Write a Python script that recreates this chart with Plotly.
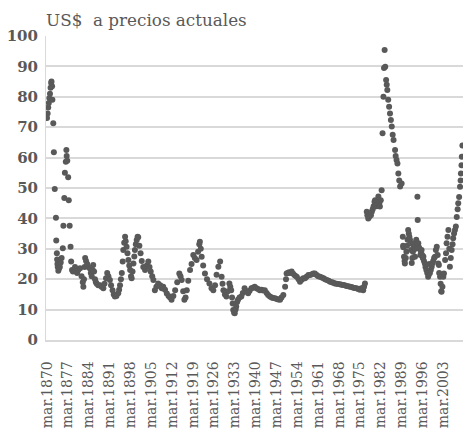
import plotly.graph_objects as go

# Precio en US$ corrientes (años decimales, "mar." = inicio de cada año del eje)
anios = [
    1870.0, 1870.2, 1870.4, 1870.6, 1870.8, 1871.0, 1871.2, 1871.4, 1871.5, 1871.7,
    1871.8, 1872.1, 1872.3, 1872.6, 1873.0, 1873.1, 1873.3, 1873.4, 1873.5, 1873.6,
    1873.8, 1874.0, 1874.3, 1874.6, 1874.9, 1875.3, 1875.5, 1875.8, 1876.0, 1876.3,
    1876.5, 1876.6, 1876.8, 1877.1, 1877.3, 1877.6, 1877.9, 1878.1, 1878.4, 1878.7,
    1879.0, 1879.4, 1879.8, 1880.1, 1880.5, 1881.1, 1881.6, 1882.0, 1882.2, 1882.4,
    1882.6, 1882.8, 1883.1, 1883.5, 1883.9, 1884.4, 1884.7, 1885.0, 1885.3, 1885.5,
    1885.8, 1886.1, 1886.4, 1886.7, 1887.2, 1887.8, 1888.3, 1888.9, 1889.3, 1889.8,
    1890.2, 1890.6, 1891.1, 1891.5, 1892.0, 1892.4, 1892.8, 1893.3, 1893.9, 1894.2,
    1894.5, 1894.8, 1895.1, 1895.4, 1895.6, 1895.9, 1896.2, 1896.4, 1896.7, 1897.0,
    1897.3, 1897.6, 1897.9, 1898.2, 1898.4, 1898.7, 1899.0, 1899.3, 1899.5, 1899.8,
    1900.1, 1900.4, 1900.6, 1901.0, 1901.4, 1901.8, 1902.3, 1902.9, 1903.5, 1904.0,
    1904.4, 1904.8, 1905.3, 1905.7, 1906.2, 1906.7, 1907.3, 1908.0, 1908.5, 1909.0,
    1909.6, 1910.2, 1910.8, 1911.3, 1911.8, 1912.4, 1913.0, 1913.7, 1914.4, 1914.8,
    1915.2, 1915.7, 1916.1, 1916.5, 1916.9, 1917.4, 1918.0, 1918.5, 1919.1, 1919.6,
    1920.2, 1920.7, 1921.1, 1921.3, 1921.6, 1921.9, 1922.4, 1923.0, 1923.7, 1924.5,
    1925.2, 1925.8, 1926.4, 1926.9, 1927.5, 1928.1, 1928.6, 1928.9, 1929.2, 1929.7,
    1930.2, 1930.7, 1931.2, 1931.5, 1931.8, 1932.1, 1932.3, 1932.5, 1932.8, 1933.0,
    1933.3, 1933.5, 1933.8, 1934.1, 1934.6, 1935.2, 1935.7, 1936.3, 1936.9, 1937.5,
    1938.0, 1938.6, 1939.1, 1939.7, 1940.3, 1940.8, 1941.4, 1942.0, 1942.5, 1943.1,
    1943.7, 1944.2, 1944.8, 1945.4, 1945.9, 1946.5, 1947.1, 1947.6, 1948.2, 1948.7,
    1949.3, 1949.9, 1950.2, 1950.4, 1950.8, 1951.2, 1951.6, 1952.1, 1952.6, 1953.2,
    1953.8, 1954.4, 1954.9, 1955.5, 1956.0, 1956.6, 1957.1, 1957.7, 1958.3, 1958.9,
    1959.4, 1959.9, 1960.5, 1961.0, 1961.6, 1962.2, 1962.8, 1963.3, 1963.9, 1964.5,
    1965.0, 1965.6, 1966.1, 1966.6, 1967.2, 1967.7, 1968.3, 1968.8, 1969.4, 1969.9,
    1970.5, 1971.1, 1971.7, 1972.2, 1972.8, 1973.3, 1973.9, 1974.4, 1975.0, 1975.5,
    1976.1, 1976.4, 1976.7, 1977.3, 1977.5, 1977.8, 1978.1, 1978.4, 1978.7, 1979.0,
    1979.3, 1979.6, 1979.9, 1980.1, 1980.4, 1980.6, 1980.9, 1981.2, 1981.5, 1981.7,
    1982.0, 1982.3, 1982.6, 1982.9, 1983.1, 1983.3, 1983.5, 1983.8, 1984.0, 1984.2,
    1984.5, 1984.8, 1985.1, 1985.4, 1985.7, 1986.0, 1986.3, 1986.8, 1987.0, 1987.3,
    1987.6, 1987.9, 1988.2, 1988.5, 1989.0, 1989.4, 1989.5, 1989.6, 1989.8, 1990.0,
    1990.1, 1990.4, 1990.6, 1990.8, 1991.0, 1991.2, 1991.4, 1991.6, 1991.8, 1992.0,
    1992.2, 1992.4, 1992.6, 1992.8, 1993.0, 1993.2, 1993.5, 1993.7, 1993.9, 1994.1,
    1994.3, 1994.4, 1994.6, 1994.8, 1995.0, 1995.3, 1995.5, 1995.7, 1995.9, 1996.1,
    1996.3, 1996.5, 1996.8, 1997.0, 1997.3, 1997.6, 1997.9, 1998.1, 1998.3, 1998.5,
    1998.8, 1999.1, 1999.3, 1999.6, 1999.9, 2000.2, 2000.5, 2000.8, 2001.1, 2001.3,
    2001.5, 2001.6, 2001.9, 2002.1, 2002.3, 2002.4, 2002.7, 2003.0, 2003.2, 2003.6,
    2003.9, 2004.1, 2004.4, 2004.7, 2005.0, 2005.2, 2005.5, 2005.8, 2006.1, 2006.3,
    2006.6, 2006.9, 2007.2, 2007.5, 2007.8, 2008.0, 2008.3, 2008.6, 2008.8, 2008.9,
    2009.1, 2009.2, 2009.4,
]

precios = [
    73.0, 74.5, 76.5, 78.0, 79.5, 81.0, 83.0, 84.5, 85.0, 83.5,
    79.0, 71.3, 61.8, 49.7, 40.2, 32.7, 28.5, 26.5, 25.0, 24.0,
    22.8, 23.5, 24.0, 25.5, 27.0, 30.2, 37.6, 46.7, 55.0, 58.6,
    62.5, 60.5, 59.0, 53.5, 46.0, 37.6, 30.7, 25.8, 23.0, 22.5,
    23.0, 24.0, 22.5, 22.0, 23.0, 23.6, 21.0, 19.0, 17.5, 20.0,
    24.0, 27.0, 26.0, 25.0, 24.0, 23.5, 22.0, 21.0, 23.0, 24.7,
    22.5, 20.0, 19.0, 18.5, 18.0, 18.0, 17.5, 17.0, 18.5, 20.3,
    22.0, 21.0, 19.7, 18.0, 16.4, 15.0, 14.3, 14.5, 15.4, 16.5,
    18.0, 20.0, 22.0, 25.8, 29.6, 32.0, 34.0, 32.5, 30.7, 28.5,
    26.3, 24.5, 23.0, 21.0, 20.3, 22.5, 25.2, 27.5, 29.6, 31.5,
    32.9, 34.0, 33.8, 31.0, 28.5, 26.0, 24.0, 23.0, 24.5, 25.8,
    24.0, 22.5, 21.0, 19.7, 16.4, 17.5, 18.6, 18.0, 17.0, 17.5,
    16.5, 15.3, 14.5, 14.0, 13.2, 14.5, 16.4, 19.0, 21.9, 21.0,
    19.7, 16.0, 13.2, 14.0, 16.4, 19.5, 23.0, 25.0, 28.0, 27.0,
    26.3, 29.0, 31.5, 32.3, 30.0, 27.4, 24.5, 21.9, 20.0, 18.6,
    17.0, 16.4, 18.0, 21.5, 24.1, 25.8, 20.8, 18.5, 16.4, 15.0,
    14.3, 16.0, 18.6, 17.5, 16.4, 14.0, 12.0, 9.9, 9.0, 8.8,
    10.0, 11.0, 12.5, 13.2, 14.0, 14.3, 15.5, 17.0, 16.0, 15.4,
    16.2, 17.0, 17.2, 17.5, 17.0, 16.8, 16.4, 16.5, 16.3, 16.4,
    15.5, 14.8, 14.3, 14.0, 13.8, 13.7, 13.5, 13.3, 13.2, 14.0,
    14.8, 17.5, 20.0, 21.9, 22.0, 22.3, 22.0, 22.5, 21.8, 21.2,
    20.8, 20.0, 19.2, 19.8, 20.3, 20.3, 20.8, 21.4, 21.4, 21.6,
    21.9, 21.9, 21.4, 21.0, 20.8, 20.6, 20.3, 20.0, 19.7, 19.5,
    19.2, 19.0, 18.8, 18.6, 18.5, 18.4, 18.3, 18.2, 18.1, 18.0,
    17.8, 17.7, 17.5, 17.4, 17.2, 17.1, 17.0, 16.8, 16.5, 17.0,
    16.4, 17.5, 18.6, 42.2, 41.0, 40.0, 40.5, 41.5, 41.0, 42.2,
    43.0, 44.0, 45.5, 46.0, 44.5, 44.0, 45.5, 47.2, 45.0, 43.9,
    46.0, 49.3, 68.0, 80.0, 89.5, 95.4, 89.9, 85.5, 84.0, 82.2,
    79.0, 76.7, 74.5, 72.4, 70.2, 67.5, 65.8, 62.5, 60.5, 59.2,
    58.1, 54.8, 52.5, 50.5, 51.5, 34.0, 31.0, 30.5, 27.4, 26.0,
    25.2, 27.0, 29.0, 31.0, 33.0, 36.2, 35.0, 34.0, 33.0, 31.8,
    29.6, 25.3, 27.0, 29.0, 31.0, 31.8, 27.4, 30.0, 33.0, 32.0,
    47.1, 39.5, 31.8, 30.5, 30.0, 28.0, 29.0, 29.6, 28.0, 27.0,
    27.5, 26.0, 25.2, 24.0, 23.0, 22.0, 20.8, 21.5, 25.0, 22.0,
    23.0, 24.1, 25.2, 26.0, 27.0, 27.4, 29.6, 30.7, 28.0, 25.2,
    24.7, 22.0, 20.8, 18.5, 16.0, 15.9, 17.5, 20.8, 21.9, 26.3,
    28.5, 31.8, 34.0, 36.2, 30.0, 24.1, 27.0, 29.6, 31.5, 33.5,
    35.0, 36.2, 37.3, 40.5, 43.0, 45.0, 47.0, 50.4, 52.5, 54.8,
    57.5, 60.3, 64.0,
]

anios_etiqueta = [1870, 1877, 1884, 1891, 1898, 1905, 1912, 1919, 1926, 1933,
                  1940, 1947, 1954, 1961, 1968, 1975, 1982, 1989, 1996, 2003]
etiquetas = ["mar.1870", "mar.1877", "mar.1884", "mar.1891", "mar.1898",
             "mar.1905", "mar.1912", "mar.1919", "mar.1926", "mar.1933",
             "mar.1940", "mar.1947", "mar.1954", "mar.1961", "mar.1968",
             "mar.1975", "mar.1982", "mar.1989", "mar.1996", "mar.2003"]

GRIS = "#595959"
REJILLA = "#d9d9d9"
SERIF = "DejaVu Serif"

fig = go.Figure(
    go.Scatter(
        x=anios,
        y=precios,
        mode="markers",
        marker=dict(color=GRIS, size=6, line=dict(width=0)),
        showlegend=False,
    )
)

fig.update_layout(
    width=463,
    height=436,
    margin=dict(l=46, r=0, t=36, b=96, autoexpand=False),
    paper_bgcolor="white",
    plot_bgcolor="white",
    title=dict(
        text="US$\u00a0 a precios actuales",
        font=dict(family=SERIF, size=16.8, color=GRIS),
        x=0,
        xref="paper",
        xanchor="left",
        y=1,
        yref="container",
        yanchor="top",
        pad=dict(t=14, l=0),
        automargin=False,
    ),
)

fig.update_xaxes(
    range=[1869.66, 2009.6],
    tickmode="array",
    tickvals=anios_etiqueta,
    ticktext=etiquetas,
    tickangle=-90,
    tickfont=dict(family=SERIF, size=14, color=GRIS),
    showgrid=False,
    zeroline=False,
    showline=True,
    linecolor=REJILLA,
    linewidth=1.5,
    ticks="",
    ticklabelstandoff=14,
    automargin=False,
)

fig.update_yaxes(
    range=[0, 100],
    dtick=10,
    tickfont=dict(family=SERIF, size=15, color=GRIS, weight="bold"),
    showgrid=True,
    gridcolor=REJILLA,
    gridwidth=1.5,
    zeroline=False,
    showline=True,
    linecolor=REJILLA,
    linewidth=1,
    ticks="",
    ticklabelstandoff=4,
    automargin=False,
)

# la página por defecto deja 8 px de margen en el body
fig.write_html(
    "out.html",
    config={"displayModeBar": False},
    post_script="document.body.style.margin = '0';",
)
